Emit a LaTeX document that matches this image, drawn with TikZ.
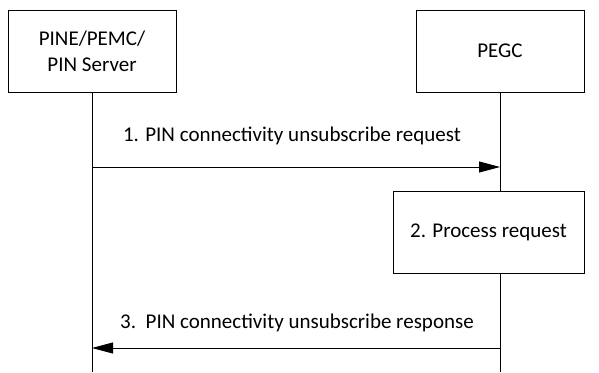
\documentclass[tikz,border=0pt]{standalone}
\usepackage{fontspec}
\setmainfont{Carlito}
\usetikzlibrary{arrows.meta, positioning}
\tikzset{
    entity/.style={rectangle, draw, fill=white, align=center, minimum width=168pt, minimum height=82pt, font=\fontsize{21}{26}\selectfont},
    procbox/.style={rectangle, draw, fill=white, align=center, minimum width=191pt, minimum height=82pt, font=\fontsize{21}{26}\selectfont},
    lifeline/.style={draw, line width=0.8pt},
    msg/.style={-{Triangle[length=21pt, width=11pt]}, line width=0.8pt},
    msglabel/.style={font=\fontsize{21}{26}\selectfont}
}
\begin{document}
\begin{tikzpicture}[x=1pt, y=-1pt, line width=0.8pt]
            \useasboundingbox (0,0) rectangle (599,372);
            \node[entity] (pine) at (92, 51) {PINE/PEMC/\\PIN Server};
            \node[entity] (pegc) at (500, 51) {PEGC};

            \coordinate (pineend) at (92, 372);
            \coordinate (pegcend) at (500, 372);
            \draw[lifeline] (pine) -- (pineend);
            \draw[lifeline] (pegc) -- (pegcend);

            \coordinate (m1a) at (92, 167);
            \coordinate (m1b) at (500, 167);
            \draw[msg] (m1a) -- (m1b);
            \node[msglabel] (m1) at (292, 136) {1. PIN connectivity unsubscribe request};

            \node[procbox] (proc) at (488.5, 232) {2. Process request};

            \coordinate (m3a) at (500, 348);
            \coordinate (m3b) at (92, 348);
            \draw[msg] (m3a) -- (m3b);
            \node[msglabel] (m3) at (297, 323) {3.\ \ PIN connectivity unsubscribe response};
            \end{tikzpicture}
\end{document}
